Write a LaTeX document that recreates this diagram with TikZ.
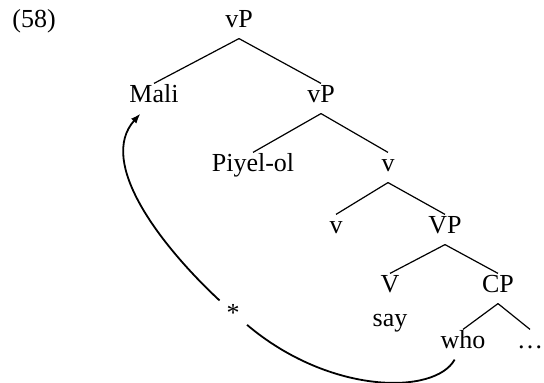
\documentclass[tikz,border=0pt]{standalone}
\usepackage{fontspec}
\setmainfont{Liberation Serif}
\usetikzlibrary{arrows.meta}
\begin{document}
\begin{tikzpicture}[x=0.5pt,y=-0.5pt,
  lbl/.style={font=\fontsize{13}{15}\selectfont, anchor=base, inner xsep=1pt, inner ysep=2.6pt, text height=0.7em, text depth=0.25em},
  branch/.style={line width=0.6pt},
  movearc/.style={line width=0.9pt},
  starnode/.style={circle, inner sep=0pt, minimum size=18pt, font=\fontsize{13}{15}\selectfont}]
\useasboundingbox (0,0) rectangle (544,383);
\node[lbl, anchor=base west] (ex) at (10,28) {(58)};
\node[lbl] (vP1) at (239,28) {vP};
\node[lbl] (Mali) at (154,103) {Mali};
\node[lbl] (vP2) at (321,103) {vP};
\node[lbl] (Piyel) at (253,172) {Piyel-ol};
\node[lbl] (vbar) at (388,172) {v};
\node[lbl] (v) at (336,234) {v};
\node[lbl] (VP) at (445,234) {VP};
\node[lbl] (V) at (390,293) {V};
\node[lbl] (CP) at (498,293) {CP};
\node[lbl] (say) at (390,327) {say};
\node[lbl] (who) at (463,349) {who};
\node[lbl] (dots) at (530,349) {…};
\node[starnode] (star) at (233,313) {*};
\draw[branch] (vP1.south) -- (Mali.north);
\draw[branch] (vP1.south) -- (vP2.north);
\draw[branch] (vP2.south) -- (Piyel.north);
\draw[branch] (vP2.south) -- (vbar.north);
\draw[branch] (vbar.south) -- (v.north);
\draw[branch] (vbar.south) -- (VP.north);
\draw[branch] (VP.south) -- (V.north);
\draw[branch] (VP.south) -- (CP.north);
\draw[branch] (CP.south) -- (who.north);
\draw[branch] (CP.south) -- (dots.north);
\draw[movearc] (who) .. controls (435,395) and (330,395) .. (star);
\draw[movearc, -{Latex[length=5pt,width=3.6pt]}] (star) .. controls (160,245) and (97,162) .. (Mali);
\end{tikzpicture}
\end{document}
